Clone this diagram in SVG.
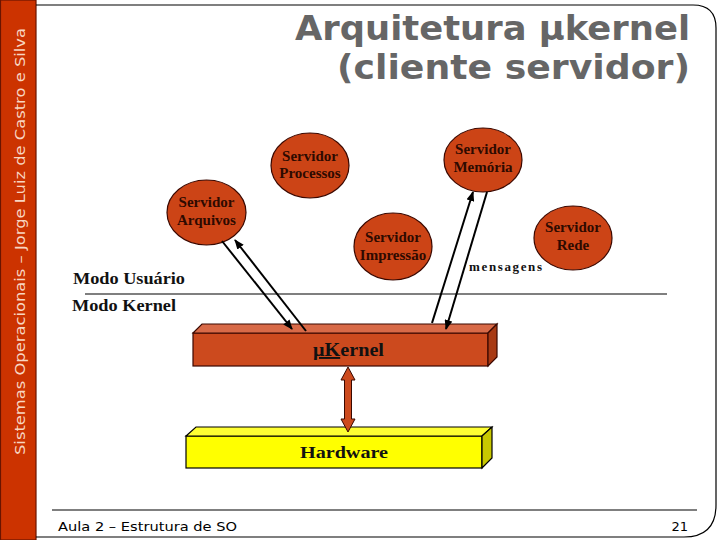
<svg xmlns="http://www.w3.org/2000/svg" width="720" height="540" viewBox="0 0 720 540">
<style>
.node ellipse{fill:#CC4416;stroke:#3a0800;stroke-width:1.2}
.nt{font-family:"Liberation Serif",serif;font-weight:bold;font-size:15px;fill:#2e0a00;text-anchor:middle}
.lbl{font-family:"Liberation Serif",serif;font-weight:bold;fill:#111}
.conn line{stroke:#000;stroke-width:2}
.title{font-family:"DejaVu Sans",Verdana,sans-serif;font-weight:bold;font-size:34px;fill:#666666}
.foot{font-family:"DejaVu Sans",Verdana,sans-serif;font-size:13px;fill:#000}
</style>
<defs>
<marker id="ah" viewBox="0 0 10 8" markerWidth="10" markerHeight="8" refX="9" refY="4" orient="auto" markerUnits="userSpaceOnUse">
<path d="M0,0 L10,4 L0,8 Z" fill="#000"/>
</marker>
</defs>
<rect width="720" height="540" fill="#fff"/>
<!-- frame -->
<g id="frame">
<rect x="0.5" y="0" width="35.5" height="540" fill="#CC3300" stroke="#6a1400" stroke-width="1.2"/>
<text transform="translate(25,455) rotate(-90)" font-family="DejaVu Sans,Verdana,sans-serif" font-size="14" fill="#F8D6C2" textLength="427" lengthAdjust="spacingAndGlyphs">Sistemas Operacionais – Jorge Luiz de Castro e Silva</text>
<path d="M36,5 H693 Q716,5 716,28 V505 Q716,537 684,537 H36" fill="none" stroke="#000" stroke-width="1.2"/>
<line x1="52" y1="510" x2="697" y2="510" stroke="#000" stroke-width="1.2"/>
<text class="foot" x="58" y="531" textLength="179" lengthAdjust="spacingAndGlyphs">Aula 2 – Estrutura de SO</text>
<text class="foot" x="688" y="531" text-anchor="end">21</text>
</g>
<g id="title">
<text class="title" x="295" y="40" textLength="395" lengthAdjust="spacingAndGlyphs">Arquitetura μkernel</text>
<text class="title" x="337" y="79" textLength="353" lengthAdjust="spacingAndGlyphs">(cliente servidor)</text>
</g>
<!-- mode separator -->
<g id="modes">
<line x1="85" y1="294" x2="667" y2="294" stroke="#000" stroke-width="1.2"/>
<text class="lbl" x="73" y="284" font-size="16" textLength="112" lengthAdjust="spacingAndGlyphs">Modo Usuário</text>
<text class="lbl" x="72" y="311" font-size="16" textLength="104" lengthAdjust="spacingAndGlyphs">Modo Kernel</text>
</g>
<!-- nodes -->
<g id="srv-processos" class="node">
<ellipse cx="310" cy="165.5" rx="39" ry="32.5"/>
<text class="nt" x="310" y="161">Servidor</text>
<text class="nt" x="310" y="178">Processos</text>
</g>
<g id="srv-memoria" class="node">
<ellipse cx="483" cy="160" rx="39" ry="32"/>
<text class="nt" x="483" y="154">Servidor</text>
<text class="nt" x="483" y="172">Memória</text>
</g>
<g id="srv-arquivos" class="node">
<ellipse cx="206.5" cy="212.5" rx="39.5" ry="32.5"/>
<text class="nt" x="206.5" y="207">Servidor</text>
<text class="nt" x="206.5" y="225">Arquivos</text>
</g>
<g id="srv-impressao" class="node">
<ellipse cx="393" cy="246.5" rx="39" ry="33.5"/>
<text class="nt" x="393" y="242">Servidor</text>
<text class="nt" x="393" y="260">Impressão</text>
</g>
<g id="srv-rede" class="node">
<ellipse cx="573" cy="238" rx="39" ry="32"/>
<text class="nt" x="573" y="232">Servidor</text>
<text class="nt" x="573" y="250">Rede</text>
</g>
<g id="kernel">
<rect x="193" y="333" width="295" height="33" fill="#CC4A1E" stroke="#3a0800" stroke-width="1.2"/>
<polygon points="193,333 202,324 497,324 488,333" fill="#D86A48" stroke="#3a0800" stroke-width="1.2"/>
<polygon points="488,333 497,324 497,357 488,366" fill="#A83A14" stroke="#3a0800" stroke-width="1.2"/>
<text class="lbl" x="313" y="356" font-size="19" fill="#2a0800" textLength="71" lengthAdjust="spacingAndGlyphs"><tspan text-decoration="underline">μK</tspan>ernel</text>
</g>
<g id="hardware">
<rect x="186" y="436" width="296" height="32" fill="#FFFF00" stroke="#000" stroke-width="1.2"/>
<polygon points="186,436 196,427 492,427 482,436" fill="#FFFF33" stroke="#000" stroke-width="1.2"/>
<polygon points="482,436 492,427 492,458 482,468" fill="#C8C800" stroke="#000" stroke-width="1.2"/>
<text class="lbl" x="300" y="458" font-size="17" textLength="88" lengthAdjust="spacingAndGlyphs">Hardware</text>
</g>
<!-- connectors -->
<g id="connectors" class="conn">
<line x1="222" y1="241" x2="292" y2="329" marker-end="url(#ah)"/>
<line x1="306" y1="331" x2="235" y2="240" marker-end="url(#ah)"/>
<line x1="432" y1="323" x2="473" y2="192" marker-end="url(#ah)"/>
<line x1="487" y1="192" x2="446" y2="329" marker-end="url(#ah)"/>
<polygon points="348,367 355,380 351.5,380 351.5,419 355,419 348,432 341,419 344.5,419 344.5,380 341,380" fill="#CC4A1E" stroke="#3a0800" stroke-width="1"/>
<text class="lbl" x="469" y="271" font-size="13" textLength="73" lengthAdjust="spacing">mensagens</text>
</g>
</svg>
